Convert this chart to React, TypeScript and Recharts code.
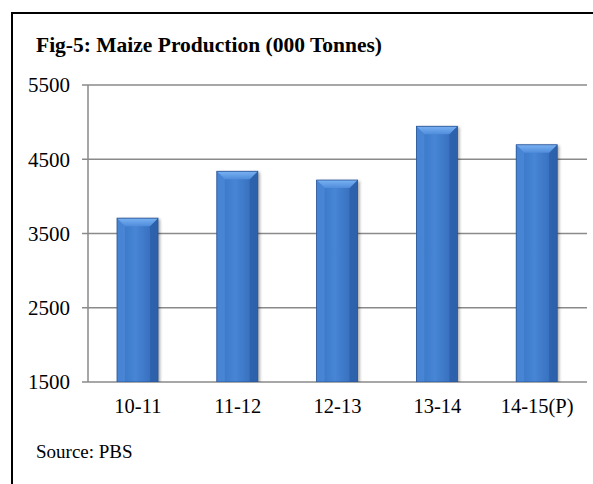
import React from "react";
import { BarChart, Bar, XAxis, YAxis, CartesianGrid } from "recharts";

// Maize production, thousand tonnes
const seasons = ["10-11", "11-12", "12-13", "13-14", "14-15(P)"];
const production = [3707, 4338, 4220, 4944, 4695];
const yTicks = [1500, 2500, 3500, 4500, 5500];
const boundaryTicks = [0, 1, 2, 3, 4, 5];

const rows = seasons.map((season, i) => ({ season, production: production[i], pos: i + 0.5 }));

const FONT = '"Liberation Serif", "Times New Roman", serif';
const GRID = "#8a8a8a";

// Bevelled column: flat face with lighter top/left facets and a soft drop shadow
const BevelBar = (props: any) => {
  const { x, y, width, height, index } = props;
  if (!height || height <= 0) return null;
  const b = Math.min(8, width / 5);
  const id = `bar${index}`;
  return (
    <g>
      <defs>
        <linearGradient id={`${id}face`} x1="0" y1="0" x2="1" y2="0">
          <stop offset="0%" stopColor="#3672c2" />
          <stop offset="45%" stopColor="#4785d5" />
          <stop offset="100%" stopColor="#3066b3" />
        </linearGradient>
        <linearGradient id={`${id}top`} x1="0" y1="0" x2="0" y2="1">
          <stop offset="0%" stopColor="#7ab2f2" />
          <stop offset="100%" stopColor="#4f8cdb" />
        </linearGradient>
        <filter id={`${id}sh`} x="-30%" y="-10%" width="160%" height="120%">
          <feDropShadow dx="2" dy="1" stdDeviation="1.6" floodColor="#000" floodOpacity="0.35" />
        </filter>
      </defs>
      <rect x={x} y={y} width={width} height={height} fill={`url(#${id}face)`} filter={`url(#${id}sh)`} />
      <polygon
        points={`${x},${y} ${x + b},${y + b} ${x + b},${y + height} ${x},${y + height}`}
        fill="#4a87d6"
        opacity={0.85}
      />
      <polygon
        points={`${x + width},${y} ${x + width - b},${y + b} ${x + width - b},${y + height} ${x + width},${y + height}`}
        fill="#2c5fa9"
        opacity={0.8}
      />
      <polygon
        points={`${x},${y} ${x + width},${y} ${x + width - b},${y + b} ${x + b},${y + b}`}
        fill={`url(#${id}top)`}
      />
      <rect x={x} y={y} width={width} height={height} fill="none" stroke="#2a5596" strokeWidth={0.8} />
    </g>
  );
};

export default function App() {
  return (
    <div style={{ position: "absolute", left: 0, top: 0, width: 593, height: 484, background: "#fff", overflow: "hidden" }}>
      <div
        style={{
          position: "absolute",
          left: 11,
          top: 12,
          width: 620,
          height: 500,
          borderLeft: "2px solid #000",
          borderTop: "2px solid #000",
        }}
      />
      <div
        style={{
          position: "absolute",
          left: 36,
          top: 33,
          fontFamily: FONT,
          fontWeight: "bold",
          fontSize: 21.5,
          color: "#000",
          whiteSpace: "nowrap",
        }}
      >
        Fig-5: Maize Production (000 Tonnes)
      </div>
      <div
        style={{
          position: "absolute",
          left: 36,
          top: 441,
          fontFamily: FONT,
          fontSize: 19,
          color: "#000",
          whiteSpace: "nowrap",
        }}
      >
        Source: PBS
      </div>
      <div style={{ position: "absolute", left: 0, top: 0 }}>
        <BarChart
          width={593}
          height={484}
          data={rows}
          margin={{ top: 85, right: 6, bottom: 62, left: 0 }}
          barSize={41}
        >
          <CartesianGrid horizontal vertical={false} stroke={GRID} strokeWidth={1.5} />
          <XAxis
            xAxisId="edges"
            type="number"
            dataKey="pos"
            domain={[0, 5]}
            ticks={boundaryTicks}
            height={0}
            tickFormatter={() => ""}
            axisLine={{ stroke: GRID, strokeWidth: 1.5 }}
            tickLine={{ stroke: GRID, strokeWidth: 1.5 }}
            tickSize={6}
          />
          <XAxis
            xAxisId="cat"
            dataKey="season"
            height={40}
            axisLine={false}
            tickLine={false}
            tickSize={6}
            tickMargin={10}
            tick={{ fill: "#000", fontSize: 20.5, fontFamily: FONT }}
            interval={0}
          />
          <YAxis
            width={88}
            domain={[1500, 5500]}
            ticks={yTicks}
            allowDataOverflow
            axisLine={{ stroke: GRID, strokeWidth: 1.5 }}
            tickLine={{ stroke: GRID, strokeWidth: 1.5 }}
            tickSize={6}
            tickMargin={12}
            tick={{ fill: "#000", fontSize: 21, fontFamily: FONT }}
          />
          <Bar xAxisId="cat" dataKey="production" shape={<BevelBar />} isAnimationActive={false} />
        </BarChart>
      </div>
    </div>
  );
}
